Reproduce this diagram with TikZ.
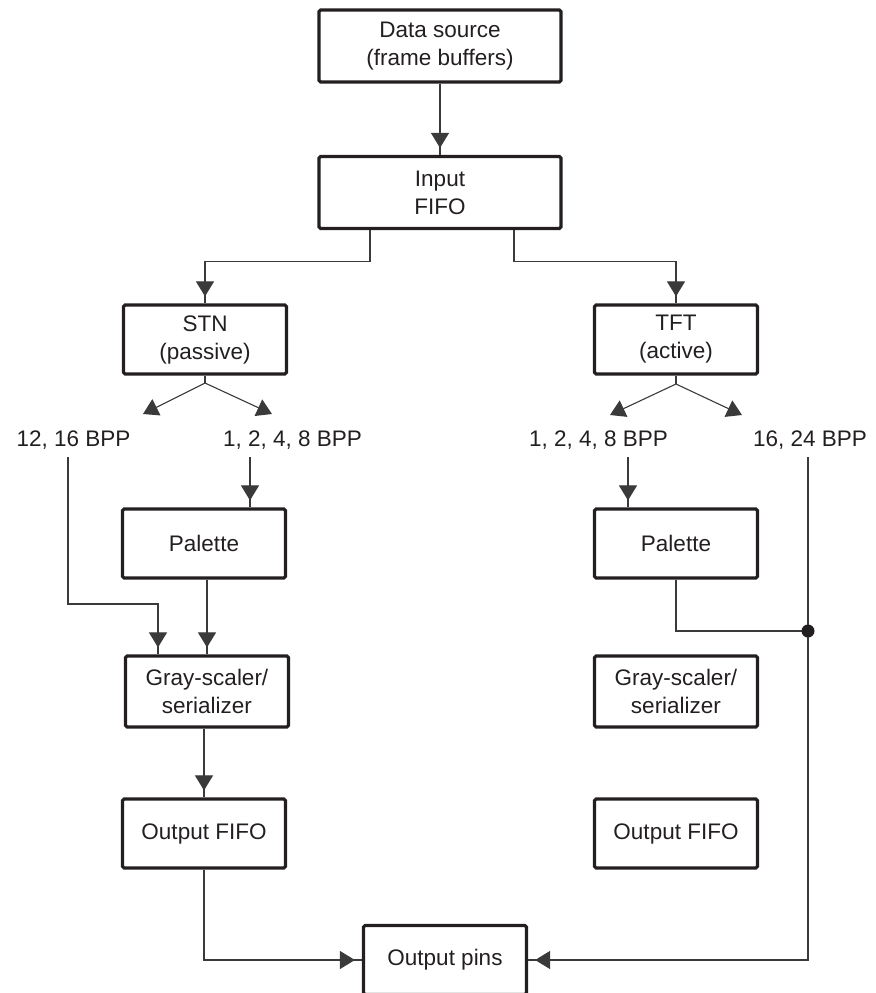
\documentclass[tikz,border=0pt]{standalone}
\usepackage{fontspec}
\setmainfont{Liberation Sans}
\usepackage{tikz}
\usetikzlibrary{arrows.meta,calc}
\definecolor{inkdark}{HTML}{231F20}
\definecolor{wiregray}{HTML}{3A3A3A}

\begin{document}
\begin{tikzpicture}[
    x=0.5pt, y=-0.5pt,
    every node/.style={font=\fontsize{11.25}{14}\selectfont, text=inkdark},
    box/.style={rectangle, draw=inkdark, line width=1.6pt, rounded corners=0.8pt, align=center, inner sep=0pt, minimum width=81.5pt, minimum height=34.5pt},
    widebox/.style={box, minimum width=121pt, minimum height=36pt},
    bpp/.style={anchor=base, inner sep=0pt},
    wire/.style={draw=wiregray, line width=0.55pt},
    arr/.style={wire, postaction={draw=wiregray, -{Triangle[length=7.5pt,width=9pt]}, shorten >=3.5pt}},
    tip/.style={wire, -{Triangle[length=7.5pt,width=9pt]}},
]
    \useasboundingbox (0,0) rectangle (875,993);
    \clip (0,0) rectangle (875,993);

    % Source and input
    \node[widebox] (src) at (440,46) {Data source\\(frame buffers)};
    \node[widebox] (infifo) at (440,192.5) {Input\\FIFO};

    % Panel types
    \node[box] (stn) at (205,339.5) {STN\\(passive)};
    \node[box] (tft) at (676,339.5) {TFT\\(active)};

    % Colour depths
    \node[bpp] (bppA) at (73.5,446) {12, 16 BPP};
    \node[bpp] (bppB) at (292.5,446) {1, 2, 4, 8 BPP};
    \node[bpp] (bppC) at (598.5,446) {1, 2, 4, 8 BPP};
    \node[bpp] (bppD) at (810,446) {16, 24 BPP};

    % Palettes
    \node[box] (palL) at (204,543.5) {Palette};
    \node[box] (palR) at (676,543.5) {Palette};

    % Gray-scalers
    \node[box, minimum height=35.5pt] (grayL) at (207,691.5) {Gray-scaler/\\serializer};
    \node[box, minimum height=35.5pt] (grayR) at (676,691.5) {Gray-scaler/\\serializer};

    % Output FIFOs
    \node[box] (ofifoL) at (204,833.5) {Output FIFO};
    \node[box] (ofifoR) at (676,833.5) {Output FIFO};

    % Pins
    \node[box] (pins) at (445,960) {Output pins};

    % Branch points
    \coordinate (forkL) at (205,383);
    \coordinate (forkR) at (676,384);
    \coordinate (toA) at (143,414);
    \coordinate (toB) at (272,414);
    \coordinate (toC) at (610,415);
    \coordinate (toD) at (742,415);
    \coordinate (fromA) at (68,457);
    \coordinate (fromB) at (250,457);
    \coordinate (fromC) at (628,457);
    \coordinate (fromD) at (808,457);
    \coordinate (join) at (808,631);

    % Arrows
    \draw[arr] (src) -- (infifo);
    \draw[arr] ([xshift=-35pt]infifo.south) -- ++(0,31) -| (stn);
    \draw[arr] ([xshift=37pt]infifo.south) -- ++(0,31) -| (tft);

    \draw[wire] (stn.south) -- (forkL);
    \draw[tip] (forkL) -- (toA);
    \draw[tip] (forkL) -- (toB);
    \draw[wire] (tft.south) -- (forkR);
    \draw[tip] (forkR) -- (toC);
    \draw[tip] (forkR) -- (toD);

    \draw[arr] (fromA) -- ++(0,147) -| ([xshift=-24.5pt]grayL.north);
    \draw[arr] (fromB) -- (fromB |- palL.north);
    \draw[arr] (grayL.north |- palL.south) -- (grayL);
    \draw[arr] (ofifoL |- grayL.south) -- (ofifoL);
    \draw[arr] (ofifoL) |- (pins);

    \draw[arr] (fromC) -- (fromC |- palR.north);
    \draw[wire] (palR) |- (join);
    \draw[arr] (fromD) |- (pins);
    \fill[inkdark] (join) circle (3.25pt);
\end{tikzpicture}
\end{document}
